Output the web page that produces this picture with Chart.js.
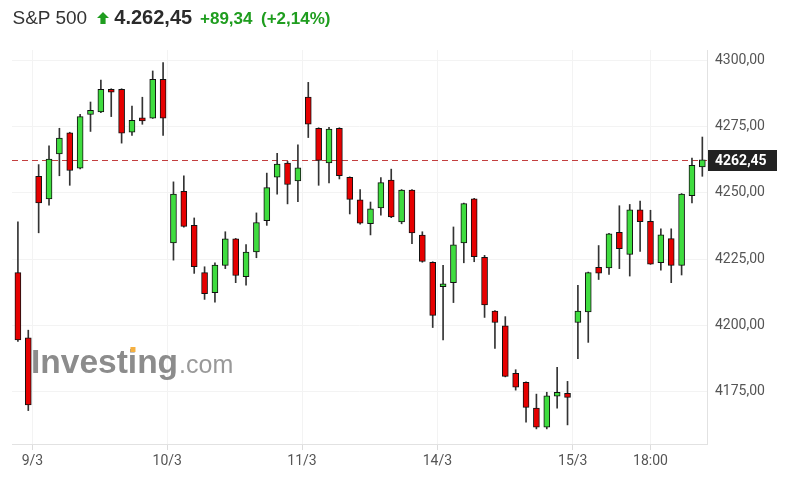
<!DOCTYPE html>
<html>
<head>
<meta charset="utf-8">
<script src="https://cdn.jsdelivr.net/npm/chart.js@4.4.1/dist/chart.umd.min.js"></script>
<style>
  html, body { margin: 0; padding: 0; background: #fff; }
  #wrap { position: relative; width: 785px; height: 491px; overflow: hidden; }
  canvas { position: absolute; left: 0; top: 0; }
  .hdr { position: absolute; white-space: nowrap; line-height: 1; font-family: "Liberation Sans", Arial, sans-serif; }
</style>
</head>
<body>
<div id="wrap">
  <canvas id="c" width="785" height="491"></canvas>
  <span class="hdr" style="left:12.5px; top:7.9px; font-size:19px; color:#333;">S&amp;P 500</span>
  <svg class="hdr" style="left:97px; top:11.5px;" width="12" height="12" viewBox="0 0 12 12"><polygon points="6,0 12,6 8.6,6 8.6,12 3.4,12 3.4,6 0,6" fill="#1f9d1f"/></svg>
  <span class="hdr" style="left:114.3px; top:7.1px; font-size:20px; font-weight:bold; color:#2b2b2b;">4.262,45</span>
  <span class="hdr" style="left:200px; top:9.6px; font-size:17px; font-weight:bold; color:#1f9d1f;">+89,34</span>
  <span class="hdr" style="left:261px; top:9.6px; font-size:17px; font-weight:bold; color:#1f9d1f;">(+2,14%)</span>
</div>
<script>
// ---- data (30-minute candles) ----
const openValues = [
  4219.9, 4195.3, 4256.2, 4247.7, 4264.6, 4272.6, 4259.3, 4279.5, 4280.5, 4289.0,
  4289.0, 4272.8, 4278.2, 4278.1, 4292.7, 4231.1, 4250.5, 4237.7, 4219.9, 4212.3,
  4222.6, 4232.6, 4218.4, 4227.7, 4239.5, 4255.9, 4261.2, 4254.5, 4286.1, 4274.3,
  4261.2, 4274.3, 4255.8, 4247.3, 4238.3, 4244.3, 4254.8, 4239.0, 4251.0, 4234.0,
  4223.8, 4214.6, 4216.1, 4231.1, 4247.7, 4225.7, 4205.4, 4199.8, 4181.9, 4178.5,
  4168.8, 4161.6, 4173.3, 4174.4, 4201.1, 4205.1, 4221.9, 4221.7, 4235.1, 4226.8,
  4243.6, 4239.2, 4223.6, 4232.7, 4222.6, 4248.9, 4259.7
];
const highValues = [
  4239.0, 4198.2, 4260.6, 4267.7, 4274.3, 4272.8, 4279.6, 4284.2, 4292.5, 4289.2,
  4289.2, 4282.7, 4286.0, 4295.9, 4299.1, 4254.1, 4256.4, 4240.5, 4222.1, 4223.6,
  4235.3, 4232.8, 4230.5, 4242.4, 4257.4, 4264.9, 4261.8, 4268.1, 4291.6, 4274.5,
  4274.7, 4274.5, 4256.0, 4251.2, 4246.5, 4255.7, 4258.9, 4251.2, 4251.2, 4235.3,
  4224.0, 4222.6, 4237.1, 4246.1, 4247.9, 4226.4, 4205.6, 4203.3, 4183.3, 4178.7,
  4174.1, 4174.8, 4184.2, 4178.9, 4215.1, 4220.1, 4230.1, 4234.7, 4245.1, 4245.6,
  4246.9, 4243.4, 4236.4, 4236.4, 4249.7, 4263.1, 4271.0
];
const lowValues = [
  4194.0, 4167.9, 4234.9, 4245.3, 4256.4, 4252.8, 4259.0, 4273.1, 4280.2, 4278.7,
  4268.7, 4271.6, 4275.8, 4278.0, 4271.6, 4224.6, 4237.0, 4219.6, 4209.8, 4208.8,
  4221.4, 4216.1, 4215.2, 4225.5, 4237.7, 4249.5, 4245.8, 4246.6, 4270.8, 4252.8,
  4253.7, 4255.2, 4242.0, 4238.2, 4234.1, 4241.5, 4240.6, 4238.3, 4230.8, 4223.8,
  4199.2, 4194.5, 4208.6, 4223.6, 4224.0, 4203.0, 4191.3, 4180.6, 4175.6, 4163.5,
  4161.0, 4161.0, 4168.8, 4162.5, 4187.5, 4193.6, 4217.3, 4219.2, 4221.4, 4218.6,
  4227.9, 4223.0, 4220.8, 4216.1, 4219.0, 4246.2, 4256.2
];
const closeValues = [
  4194.5, 4170.0, 4246.2, 4262.7, 4270.6, 4258.4, 4278.7, 4281.1, 4289.0, 4287.9,
  4272.5, 4277.3, 4277.1, 4292.7, 4278.1, 4249.5, 4237.3, 4222.1, 4212.0, 4222.7,
  4232.6, 4218.8, 4227.6, 4238.8, 4251.9, 4260.8, 4253.1, 4259.4, 4275.8, 4262.2,
  4274.0, 4256.4, 4247.5, 4238.5, 4243.9, 4253.8, 4240.9, 4251.0, 4234.9, 4224.1,
  4203.8, 4215.7, 4230.4, 4245.9, 4225.9, 4207.7, 4201.1, 4180.8, 4176.7, 4169.1,
  4161.6, 4173.5, 4174.8, 4172.9, 4205.4, 4219.9, 4219.7, 4234.5, 4228.9, 4243.6,
  4239.1, 4223.1, 4234.1, 4222.6, 4249.5, 4260.3, 4262.45
];
const lastPrice = 4262.45;
const xTickPositions = [1.4, 14.4, 27.4, 40.45, 53.5, 61.0];
const xTickLabels = ['9/3', '10/3', '11/3', '14/3', '15/3', '18:00'];
const yTickValues = [4175, 4200, 4225, 4250, 4275, 4300];

// ---- styling ----
const UP = '#3fdc3f';
const DOWN = '#e60000';
const fmt = v => v.toFixed(2).replace('.', ',');

const wickData = lowValues.map((l, i) => ({ x: i, y: [l, highValues[i]] }));
const bodyData = openValues.map((o, i) => ({ x: i, y: [o, closeValues[i]] }));
const bodyColors = openValues.map((o, i) => closeValues[i] >= o ? UP : DOWN);

const overlay = {
  id: 'overlay',
  beforeDatasetsDraw(chart) {
    const { ctx, chartArea: a, scales: { y } } = chart;
    ctx.save();
    // watermark
    ctx.textBaseline = 'alphabetic';
    ctx.textAlign = 'left';
    ctx.font = 'bold 33.5px "Liberation Sans", Arial, sans-serif';
    ctx.fillStyle = '#8c8c8c';
    const wx = a.left + 19, wy = 373;
    ctx.fillText('Investing', wx, wy);
    const wInv = ctx.measureText('Invest').width;
    const wI = ctx.measureText('i').width;
    const wAll = ctx.measureText('Investing').width;
    ctx.fillStyle = '#f5b041';
    ctx.fillRect(wx + wInv + wI / 2 - 2, wy - 26, 5, 5);
    ctx.font = '25px "Liberation Sans", Arial, sans-serif';
    ctx.fillStyle = '#999999';
    ctx.fillText('.com', wx + wAll + 1, wy);
    // dashed last-price line
    const py = Math.round(y.getPixelForValue(lastPrice)) + 0.5;
    ctx.strokeStyle = 'rgba(185,30,30,0.85)';
    ctx.lineWidth = 1;
    ctx.setLineDash([6, 4]);
    ctx.beginPath();
    ctx.moveTo(a.left, py);
    ctx.lineTo(a.right, py);
    ctx.stroke();
    ctx.restore();
  },
  afterDraw(chart) {
    const { ctx, chartArea: a, scales: { y } } = chart;
    const py = y.getPixelForValue(lastPrice);
    ctx.save();
    ctx.fillStyle = '#222';
    ctx.fillRect(a.right + 1, Math.round(py) - 10, 69, 21);
    ctx.fillStyle = '#fff';
    ctx.font = 'bold 14px Roboto, sans-serif';
    ctx.textBaseline = 'middle';
    ctx.textAlign = 'left';
    ctx.fillText(fmt(lastPrice), a.right + 8, Math.round(py) + 1);
    ctx.restore();
  }
};

new Chart(document.getElementById('c'), {
  type: 'bar',
  data: {
    datasets: [
      {
        label: 'wick',
        data: wickData,
        backgroundColor: '#333',
        borderWidth: 0,
        barThickness: 1,
        grouped: false,
        order: 2
      },
      {
        label: 'body',
        data: bodyData,
        backgroundColor: bodyColors,
        borderColor: '#111',
        borderWidth: 1,
        borderSkipped: false,
        barThickness: 6,
        grouped: false,
        order: 1
      }
    ]
  },
  options: {
    responsive: false,
    animation: false,
    events: [],
    layout: { padding: { left: 12, top: 50, right: 0, bottom: 0 } },
    plugins: { legend: { display: false }, tooltip: { enabled: false }, title: { display: false } },
    scales: {
      x: {
        type: 'linear',
        min: -0.57,
        max: 66.45,
        offset: false,
        afterBuildTicks: s => { s.ticks = xTickPositions.map(v => ({ value: v })); },
        afterFit: s => { s.height = 47; },
        ticks: {
          autoSkip: false,
          maxRotation: 0,
          padding: 3,
          color: '#555',
          font: { family: 'Roboto', size: 14 },
          callback: (v, i) => xTickLabels[i]
        },
        grid: { color: '#f3f3f3', tickColor: '#dcdcdc', tickLength: 6, drawTicks: true, offset: false },
        border: { color: '#e2e2e2' }
      },
      y: {
        position: 'right',
        min: 4155.3,
        max: 4303.8,
        afterBuildTicks: s => { s.ticks = yTickValues.map(v => ({ value: v })); },
        afterFit: s => { s.width = 78; },
        ticks: {
          padding: 8,
          color: '#555',
          font: { family: 'Roboto', size: 14 },
          callback: v => fmt(v)
        },
        grid: { color: '#f3f3f3', drawTicks: false },
        border: { color: '#e2e2e2' }
      }
    }
  },
  plugins: [overlay]
});
</script>
</body>
</html>
